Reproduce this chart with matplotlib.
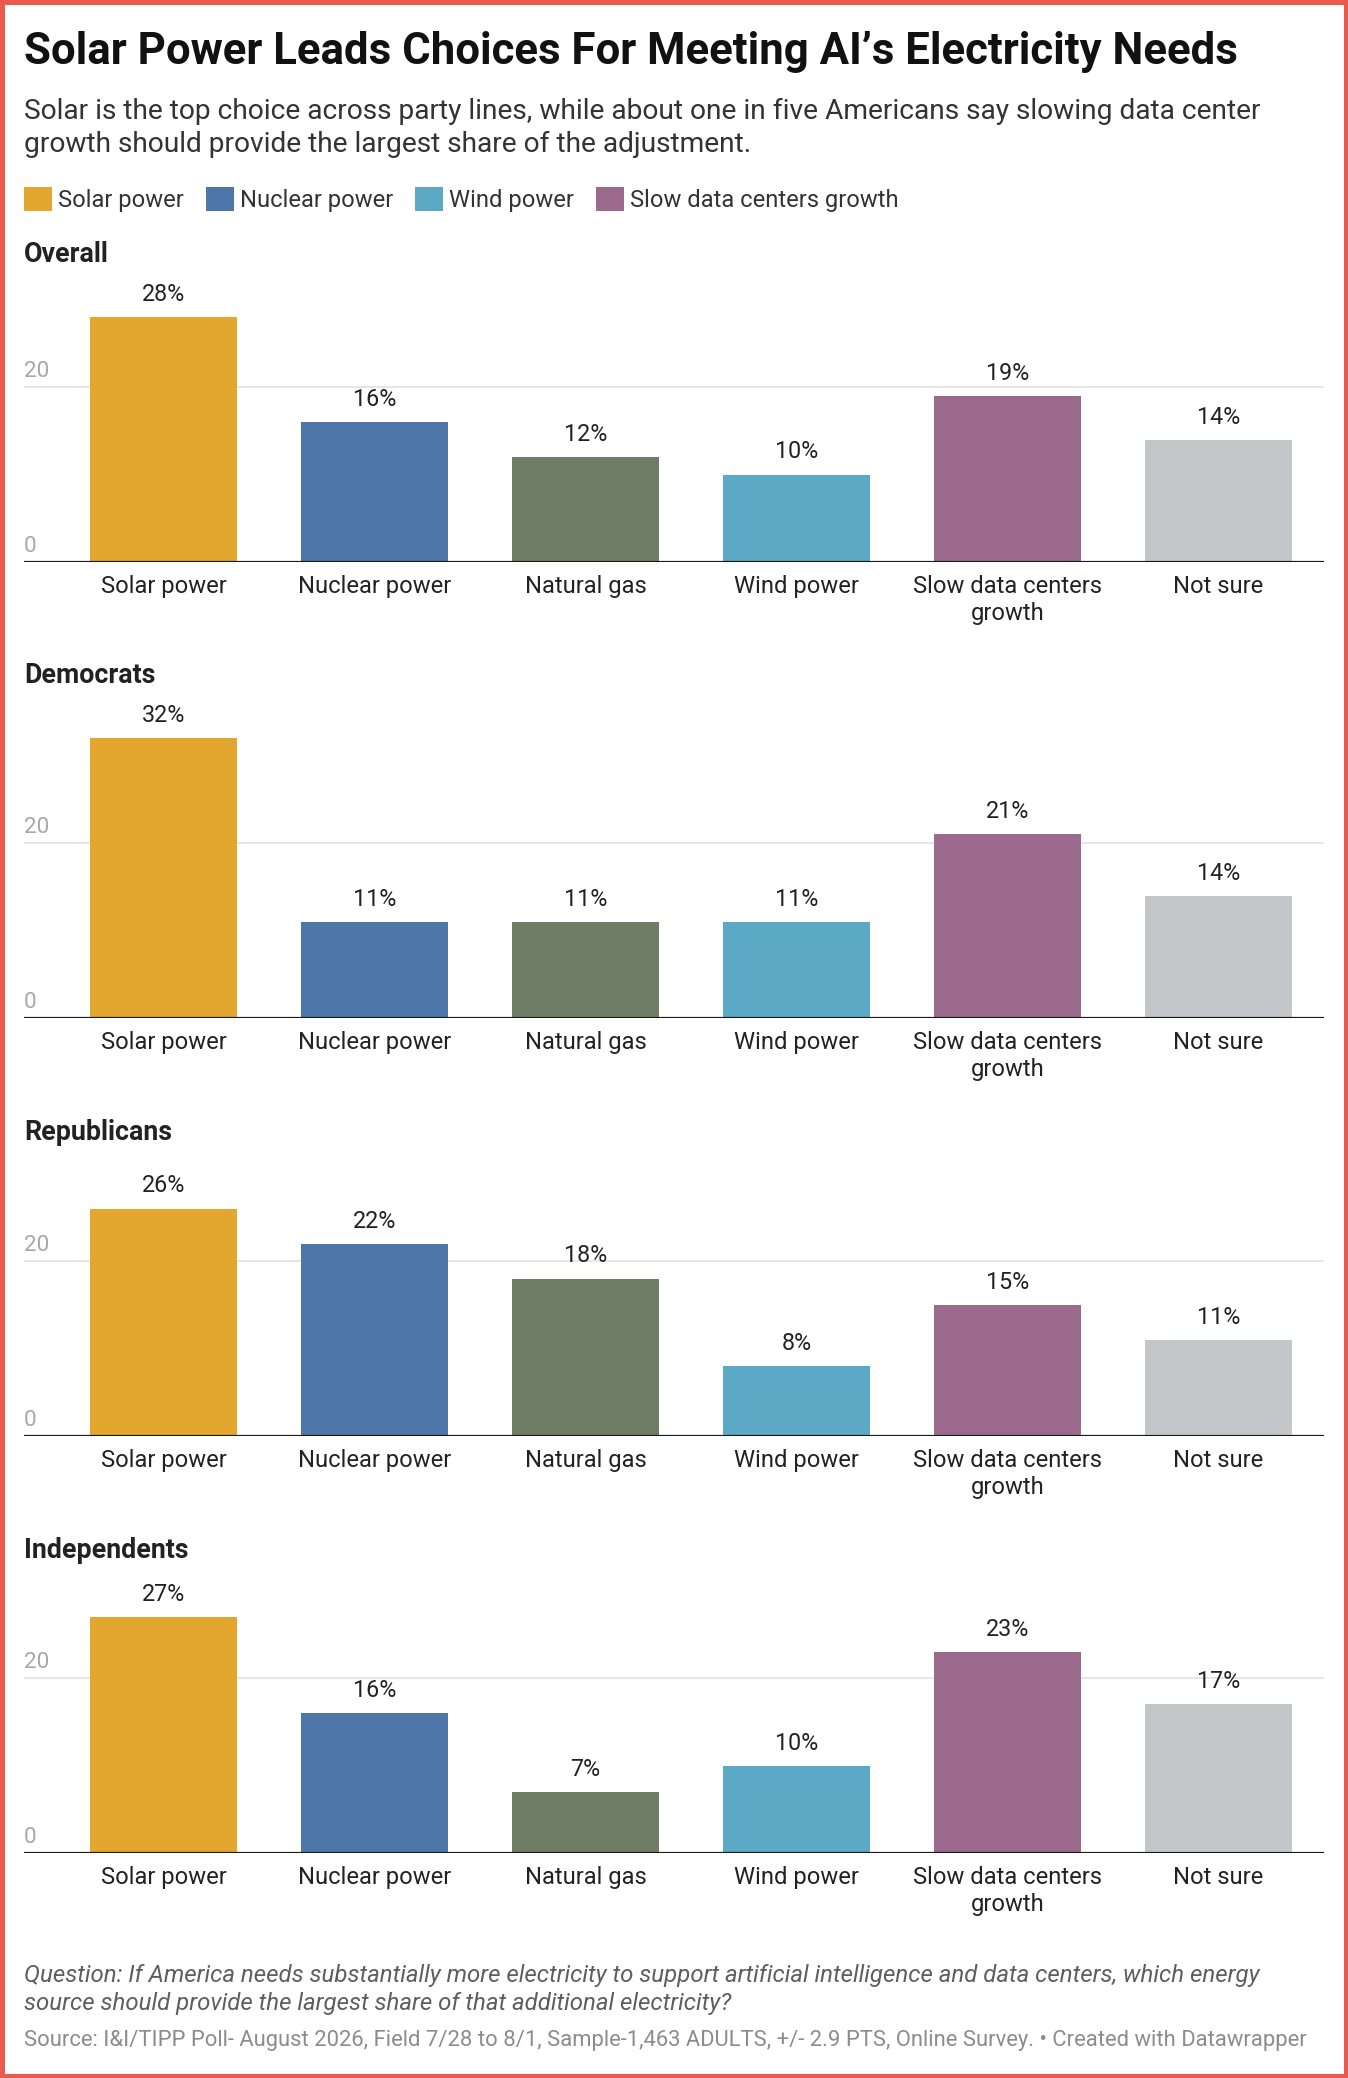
import matplotlib
matplotlib.use("Agg")
import matplotlib.pyplot as plt
from matplotlib.patches import Patch, Rectangle

# ---------------- data ----------------
categories = ["Solar power", "Nuclear power", "Natural gas", "Wind power",
              "Slow data centers\ngrowth", "Not sure"]
panel_names = ["Overall", "Democrats", "Republicans", "Independents"]
overall = [28, 16, 12, 10, 19, 14]
democrats = [32, 11, 11, 11, 21, 14]
republicans = [26, 22, 18, 8, 15, 11]
independents = [27, 16, 7, 10, 23, 17]
panel_values = [overall, democrats, republicans, independents]
y_ticks = [0, 20]

bar_colors = ["#e3a730", "#4c77a8", "#6f7d67", "#5ba9c4", "#9b6a8d", "#c4c7ca"]
legend_labels = ["Solar power", "Nuclear power", "Wind power", "Slow data centers growth"]
legend_colors = ["#e3a730", "#4c77a8", "#5ba9c4", "#9b6a8d"]

title = "Solar Power Leads Choices For Meeting AI\u2019s Electricity Needs"
subtitle_lines = ["Solar is the top choice across party lines, while about one in five Americans say slowing data center",
                  "growth should provide the largest share of the adjustment."]
question_lines = ["Question: If America needs substantially more electricity to support artificial intelligence and data centers, which energy",
                  "source should provide the largest share of that additional electricity?"]
source = ("Source: I&I/TIPP Poll- August 2026, Field 7/28 to 8/1, Sample-1,463 ADULTS, +/- 2.9 PTS, "
          "Online Survey. \u2022 Created with Datawrapper")

# ---------------- layout helpers ----------------
W, H = 1348, 2078
DPI = 100
plt.rcParams['font.family'] = ['Roboto', 'DejaVu Sans']


def fx(px):
    return px / W


def fy(py):
    return 1 - py / H


def pt(px):
    return px * 72.0 / DPI


fig = plt.figure(figsize=(W / DPI, H / DPI), dpi=DPI)
fig.patch.set_facecolor("white")

# header
fig.text(fx(24), fy(64), title, fontsize=pt(43.8), fontweight="bold",
         color="#111111", ha="left", va="baseline")
for line, yb in zip(subtitle_lines, [119, 152]):
    fig.text(fx(24), fy(yb), line, fontsize=pt(28.1), color="#333333",
             ha="left", va="baseline")

handles = [Patch(facecolor=c, edgecolor="none") for c in legend_colors]
fs_leg = 23.8
fig.legend(handles, legend_labels, loc="center left",
           bbox_to_anchor=(fx(24), fy(199.5)), ncol=4, frameon=False,
           fontsize=pt(fs_leg), handlelength=28 / fs_leg, handleheight=28 / fs_leg,
           handletextpad=6 / fs_leg, columnspacing=22 / fs_leg,
           borderpad=0, borderaxespad=0, labelcolor="#333333")

# panels
baselines = [562, 1018, 1436, 1853]
title_baselines = [262, 683, 1140, 1558]
px_per_unit = 8.75
ymax = 35
ax_h = ymax * px_per_unit
x = list(range(len(categories)))

for name, vals, base, tb in zip(panel_names, panel_values, baselines, title_baselines):
    fig.text(fx(24), fy(tb), name, fontsize=pt(26.7), fontweight="bold",
             color="#222222", ha="left", va="baseline")
    ax = fig.add_axes([fx(24), 1 - base / H, 1300 / W, ax_h / H])
    ax.patch.set_alpha(0)
    ax.set_xlim(-0.661, 5.5)
    ax.set_ylim(0, ymax)
    ax.bar(x, vals, width=0.697, color=bar_colors, zorder=2)
    ax.axhline(20, color="#e6e6e6", lw=pt(2), zorder=1)
    ax.axhline(0, color="#1a1a1a", lw=pt(2.2), zorder=3)
    for s in ax.spines.values():
        s.set_visible(False)
    ax.set_yticks([])
    ax.set_xticks(x, categories)
    ax.tick_params(axis="x", length=0, pad=pt(13), labelsize=pt(23.8),
                   labelcolor="#222222")
    for lab in ax.get_xticklabels():
        lab.set_linespacing(1.2)
    for t in y_ticks:
        ax.annotate(str(t), xy=(0, t), xycoords=("axes fraction", "data"),
                    xytext=(0, 10), textcoords="offset pixels", ha="left",
                    va="baseline", fontsize=pt(22.5), color="#a8a8a8")
    for xi, v in zip(x, vals):
        ax.annotate(f"{v}%", xy=(xi, v), xytext=(0, 16), textcoords="offset pixels",
                    ha="center", va="baseline", fontsize=pt(23.3), color="#222222")

# footer
for line, yb in zip(question_lines, [1982, 2010]):
    fig.text(fx(24), fy(yb), line, fontsize=pt(24.0), style="italic",
             color="#5e5e5e", ha="left", va="baseline")
fig.text(fx(24), fy(2046), source, fontsize=pt(21.95), color="#8c8c8c",
         ha="left", va="baseline")

# border
fig.add_artist(Rectangle((0, 0), 1, 1, transform=fig.transFigure, fill=False,
                         edgecolor="#ea5a4f", lw=pt(9), clip_on=False))

fig.savefig("out.png", dpi=DPI, facecolor="white")
